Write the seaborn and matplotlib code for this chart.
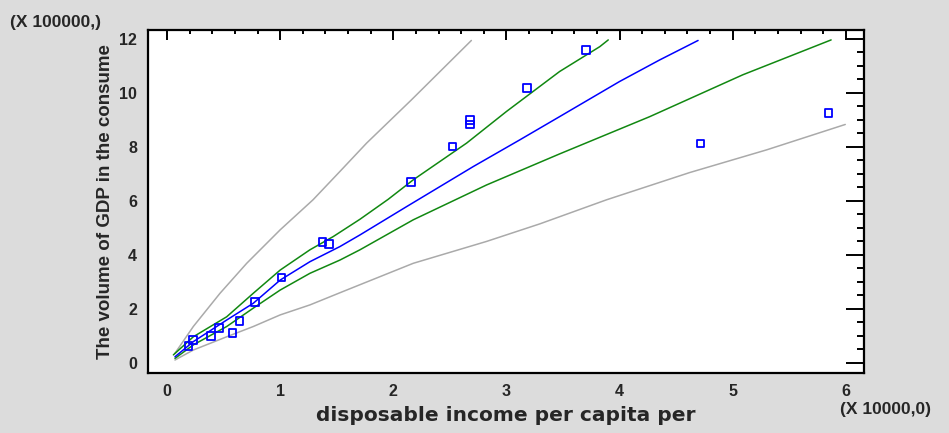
import numpy as np
import pandas as pd
import matplotlib
matplotlib.use("Agg")
import matplotlib.pyplot as plt
import seaborn as sns
from matplotlib.ticker import MultipleLocator

# observed points (x in 10000, y in 100000)
obs_x = [0.188, 0.232, 0.386, 0.457, 0.577, 0.639, 0.777, 1.013, 1.375, 1.434,
         2.155, 2.524, 2.677, 2.677, 3.183, 3.701, 4.715, 5.846]
obs_y = [0.63, 0.85, 1.01, 1.29, 1.12, 1.56, 2.26, 3.17, 4.47, 4.41,
         6.71, 8.01, 9.00, 8.83, 10.17, 11.58, 8.12, 9.26]

# fitted model
fit_x = [0.07, 0.232, 0.527, 0.762, 1.0, 1.263, 1.528, 1.705, 2.118, 2.706, 3.118, 3.47, 4.0, 4.355, 4.694]
fit_y = [0.23, 0.79, 1.59, 2.21, 3.07, 3.75, 4.31, 4.74, 5.79, 7.27, 8.26, 9.12, 10.42, 11.22, 11.94]

# confidence limits
conf_hi_x = [0.056, 0.232, 0.527, 0.762, 1.0, 1.263, 1.469, 1.705, 1.955, 2.176, 2.648, 3.0, 3.47, 3.825, 3.90]
conf_hi_y = [0.30, 0.97, 1.71, 2.58, 3.44, 4.19, 4.68, 5.32, 6.06, 6.78, 8.14, 9.31, 10.79, 11.71, 11.96]
conf_lo_x = [0.07, 0.232, 0.527, 0.762, 1.0, 1.263, 1.528, 1.705, 2.176, 2.824, 3.47, 4.267, 5.09, 5.87]
conf_lo_y = [0.17, 0.67, 1.35, 2.03, 2.70, 3.32, 3.81, 4.19, 5.30, 6.59, 7.74, 9.12, 10.67, 11.96]

# prediction limits
pred_hi_x = [0.07, 0.232, 0.468, 0.704, 1.0, 1.29, 1.528, 1.764, 2.16, 2.69]
pred_hi_y = [0.36, 1.35, 2.58, 3.69, 4.93, 6.04, 7.09, 8.14, 9.74, 11.94]
pred_lo_x = [0.07, 0.232, 0.527, 0.762, 1.0, 1.263, 1.528, 2.176, 2.824, 3.295, 3.884, 4.62, 5.30, 5.995]
pred_lo_y = [0.11, 0.48, 0.97, 1.35, 1.78, 2.15, 2.60, 3.69, 4.50, 5.15, 6.04, 7.05, 7.89, 8.83]

sns.set_style("white")
plt.rcParams["font.family"] = ["Liberation Sans", "DejaVu Sans"]

fig = plt.figure(figsize=(9.49, 4.33), dpi=100)
fig.patch.set_facecolor("#dcdcdc")
ax = fig.add_axes([0.156, 0.1386, 0.754, 0.7923])
ax.set_facecolor("white")

lines = [
    (pred_hi_x, pred_hi_y, "#aaaaaa"),
    (pred_lo_x, pred_lo_y, "#aaaaaa"),
    (conf_hi_x, conf_hi_y, "#118811"),
    (conf_lo_x, conf_lo_y, "#118811"),
    (fit_x, fit_y, "#0000ff"),
]
for lx, ly, c in lines:
    sns.lineplot(x=lx, y=ly, color=c, linewidth=1.1, sort=False, estimator=None, ax=ax)

sns.scatterplot(x=obs_x, y=obs_y, marker="s", s=30, facecolor="none",
                edgecolor="#0000ff", linewidth=1.3, ax=ax, zorder=5)

ax.set_xlim(-0.168, 6.157)
ax.set_ylim(-0.37, 12.33)
ax.xaxis.set_major_locator(MultipleLocator(1))
ax.xaxis.set_minor_locator(MultipleLocator(0.2))
ax.yaxis.set_major_locator(MultipleLocator(2))
ax.yaxis.set_minor_locator(MultipleLocator(0.5))

ax.tick_params(axis="both", which="both", direction="in", top=True, right=True,
               color="black", width=1.4)
ax.tick_params(axis="x", which="major", length=7, pad=8, labelsize=11.5)
ax.tick_params(axis="x", which="minor", length=3)
ax.tick_params(axis="y", which="major", length=13, pad=8, labelsize=11.5)
ax.tick_params(axis="y", which="minor", length=5)
for lab in ax.get_xticklabels() + ax.get_yticklabels():
    lab.set_fontweight("bold")

for sp in ax.spines.values():
    sp.set_visible(True)
    sp.set_color("black")
    sp.set_linewidth(1.6)

ax.set_xlabel("disposable income per capita per", fontsize=14.5, fontweight="bold",
              family=["DejaVu Sans"], labelpad=5)
ax.set_ylabel("The volume of GDP in the consume", fontsize=13.5, fontweight="bold", labelpad=4)

fig.text(0.0105, 0.949, "(X 100000,)", fontsize=12.5, fontweight="bold", va="center", ha="left")
fig.text(0.981, 0.054, "(X 10000,0)", fontsize=12.5, fontweight="bold", va="center", ha="right")

fig.savefig("out.png", dpi=100, facecolor=fig.get_facecolor())
